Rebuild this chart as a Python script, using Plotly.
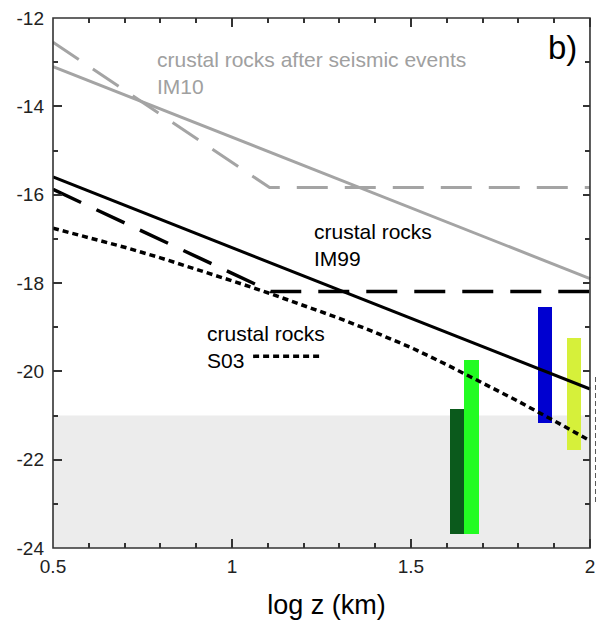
import plotly.graph_objects as go

# ---- data ----
im10_x = [0.5, 2.0]
im10_y = [-13.1, -17.9]
im10_dash_x = [0.5, 1.105, 2.0]
im10_dash_y = [-12.55, -15.84, -15.84]

im99_x = [0.5, 2.0]
im99_y = [-15.6, -20.4]
im99_dash_x = [0.5, 1.108, 2.0]
im99_dash_y = [-15.88, -18.19, -18.19]

s03_x = [0.5, 0.6, 0.7, 0.8, 0.9, 1.0, 1.1, 1.2, 1.3, 1.4, 1.5, 1.6, 1.7, 1.8, 1.9, 2.0]
s03_y = [-16.76, -16.97, -17.19, -17.43, -17.68, -17.95, -18.22, -18.50, -18.80,
         -19.12, -19.46, -19.85, -20.26, -20.68, -21.12, -21.57]

s03_key_x = [1.059, 1.251]
s03_key_y = [-19.66, -19.66]

edge_x = [2.022, 2.022]
edge_y = [-20.13, -23.0]

bar_left = [1.609, 1.648, 1.855, 1.936]
bar_right = [1.648, 1.690, 1.894, 1.975]
bar_bottom = [-23.69, -23.69, -21.18, -21.77]
bar_top = [-20.85, -19.75, -18.55, -19.24]
bar_colors = ["#0b5a1c", "#22fc22", "#0000d0", "#d6f03a"]

band_low = -24.0
band_high = -21.0

x_frame = [0.5, 2.0]          # framed axis range
x_view_max = 2.028            # a little room past the frame for the outer dotted segment
y_range = [-24, -12]
x_ticks = [0.5, 1.0, 1.5, 2.0]
x_ticklabels = ["0.5", "1", "1.5", "2"]
y_ticks = [-24, -22, -20, -18, -16, -14, -12]
y_ticklabels = ["-24", "-22", "-20", "-18", "-16", "-14", "-12"]

FONT = "Liberation Sans, Arial, sans-serif"
GRAY = "#a4a4a4"
AXC = "#333333"

frame_right = (x_frame[1] - x_frame[0]) / (x_view_max - x_frame[0])

fig = go.Figure()

# bars
for l, r, b, t, c in zip(bar_left, bar_right, bar_bottom, bar_top, bar_colors):
    fig.add_trace(go.Bar(x=[(l + r) / 2], y=[t - b], base=[b], width=[r - l],
                         marker=dict(color=c, line=dict(width=0)),
                         showlegend=False, hoverinfo="skip"))

# lines
fig.add_trace(go.Scatter(x=im10_x, y=im10_y, mode="lines",
                         line=dict(color=GRAY, width=3), showlegend=False))
fig.add_trace(go.Scatter(x=im10_dash_x, y=im10_dash_y, mode="lines",
                         line=dict(color=GRAY, width=3, dash="31px,17px"), showlegend=False))
fig.add_trace(go.Scatter(x=im99_x, y=im99_y, mode="lines",
                         line=dict(color="black", width=3), showlegend=False))
fig.add_trace(go.Scatter(x=im99_dash_x, y=im99_dash_y, mode="lines",
                         line=dict(color="black", width=3.5, dash="31px,17px"), showlegend=False))
fig.add_trace(go.Scatter(x=s03_x, y=s03_y, mode="lines",
                         line=dict(color="black", width=3.5, dash="6px,4px"), showlegend=False))
fig.add_trace(go.Scatter(x=s03_key_x, y=s03_key_y, mode="lines", yaxis="y2",
                         line=dict(color="black", width=3.5, dash="6px,4px"), showlegend=False))
fig.add_trace(go.Scatter(x=edge_x, y=edge_y, mode="lines",
                         line=dict(color="black", width=5, dash="5px,3px"), showlegend=False))

# gray band
fig.add_shape(type="rect", xref="paper", x0=0, x1=frame_right, yref="y",
              y0=band_low, y1=band_high,
              fillcolor="#ececec", line=dict(width=0), layer="below")
# frame
fig.add_shape(type="rect", xref="paper", x0=0, x1=frame_right, yref="paper", y0=0, y1=1,
              line=dict(color=AXC, width=1.6), fillcolor="rgba(0,0,0,0)", layer="above")

# annotations
fig.add_annotation(x=0.785, y=-13.25, xanchor="left", yanchor="middle", align="left",
                   text="crustal rocks after seismic events<br>IM10", showarrow=False,
                   font=dict(family=FONT, size=21, color="#a0a0a0"))
fig.add_annotation(x=1.2235, y=-17.14, xanchor="left", yanchor="middle", align="left",
                   text="crustal rocks<br>IM99", showarrow=False,
                   font=dict(family=FONT, size=21, color="black"))
fig.add_annotation(x=0.9246, y=-19.44, xanchor="left", yanchor="middle", align="left",
                   text="crustal rocks<br>S03", showarrow=False,
                   font=dict(family=FONT, size=21, color="black"))
fig.add_annotation(x=1.922, y=-12.67, xanchor="center", yanchor="middle",
                   text="b)", showarrow=False,
                   font=dict(family=FONT, size=33, color="black"))

tickfont = dict(family=FONT, size=19, color="#222222")

fig.update_layout(
    xaxis=dict(range=[x_frame[0], x_view_max], domain=[0, 1],
               tickvals=x_ticks, ticktext=x_ticklabels,
               showline=False, mirror="ticks", ticks="inside", tickcolor=AXC,
               tickwidth=1.5, ticklen=9,
               minor=dict(dtick=0.1, tick0=0.5, ticks="inside", ticklen=5,
                          tickcolor=AXC, tickwidth=1.5),
               showgrid=False, zeroline=False, automargin=False,
               ticklabeloverflow="allow", tickfont=tickfont, ticklabelstandoff=5,
               title=dict(text="log z (km)", font=dict(family=FONT, size=27, color="black"),
                          standoff=25)),
    yaxis=dict(range=y_range, tickvals=y_ticks, ticktext=y_ticklabels,
               showline=False, mirror=False, ticks="inside", tickcolor=AXC,
               tickwidth=1.5, ticklen=9,
               minor=dict(dtick=1, tick0=-24, ticks="inside", ticklen=5,
                          tickcolor=AXC, tickwidth=1.5),
               showgrid=False, zeroline=False, automargin=False,
               ticklabeloverflow="allow", tickfont=tickfont, ticklabelstandoff=8),
    yaxis2=dict(range=y_range, overlaying="y", anchor="free", position=frame_right,
                side="right", tickvals=y_ticks, showticklabels=False,
                showline=False, ticks="inside", tickcolor=AXC, tickwidth=1.5, ticklen=7,
                minor=dict(dtick=1, tick0=-24, ticks="inside", ticklen=5,
                           tickcolor=AXC, tickwidth=1.5),
                showgrid=False, zeroline=False, automargin=False),
    width=596, height=612, margin=dict(l=45, r=4, t=10, b=72),
    plot_bgcolor="rgba(0,0,0,0)", paper_bgcolor="white",
    barmode="overlay", bargap=0, showlegend=False,
    font=dict(family=FONT),
)

fig.write_html("out.html")
